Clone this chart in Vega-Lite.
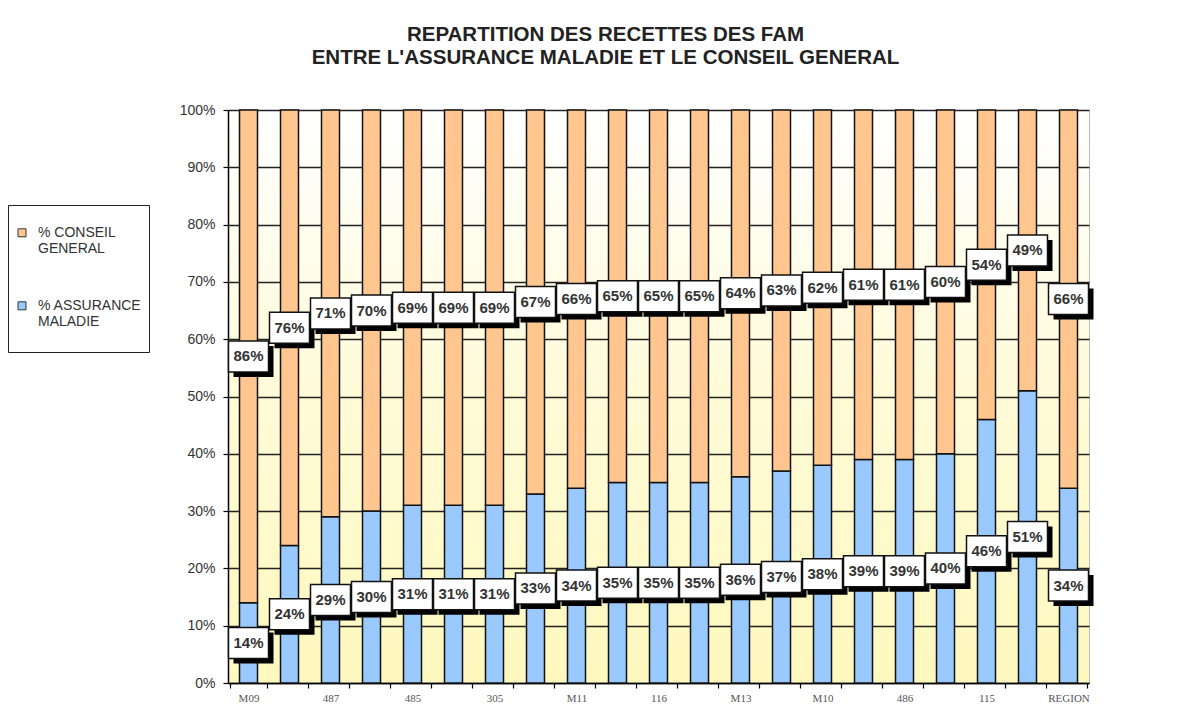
{
  "$schema": "https://vega.github.io/schema/vega-lite/v6.json",
  "width": 861,
  "height": 573,
  "autosize": {"type": "none"},
  "padding": {"left": 228, "top": 110, "right": 107, "bottom": 21},
  "background": "white",
  "view": {
    "fill": {"gradient": "linear", "x1": 0, "y1": 1, "x2": 0, "y2": 0,
      "stops": [{"offset": 0, "color": "#FFF8BE"}, {"offset": 0.5, "color": "#FFFBD8"}, {"offset": 1, "color": "#FFFFFF"}]},
    "stroke": "#bbbbbb"
  },
  "title": {
    "text": ["REPARTITION DES RECETTES DES FAM", "ENTRE L'ASSURANCE MALADIE ET LE CONSEIL GENERAL"],
    "font": "Liberation Sans", "fontSize": 20.5, "fontWeight": "bold", "color": "#222222",
    "anchor": "middle", "frame": "group", "dx": -53, "offset": 35, "lineHeight": 23
  },
  "data": {"values": [
    {"n": 1, "fam": "M09", "serie": "% ASSURANCE MALADIE", "part": 0.14},
    {"n": 1, "fam": "M09", "serie": "% CONSEIL GENERAL", "part": 0.86},
    {"n": 2, "serie": "% ASSURANCE MALADIE", "part": 0.24},
    {"n": 2, "serie": "% CONSEIL GENERAL", "part": 0.76},
    {"n": 3, "fam": "487", "serie": "% ASSURANCE MALADIE", "part": 0.29},
    {"n": 3, "fam": "487", "serie": "% CONSEIL GENERAL", "part": 0.71},
    {"n": 4, "serie": "% ASSURANCE MALADIE", "part": 0.30},
    {"n": 4, "serie": "% CONSEIL GENERAL", "part": 0.70},
    {"n": 5, "fam": "485", "serie": "% ASSURANCE MALADIE", "part": 0.31},
    {"n": 5, "fam": "485", "serie": "% CONSEIL GENERAL", "part": 0.69},
    {"n": 6, "serie": "% ASSURANCE MALADIE", "part": 0.31},
    {"n": 6, "serie": "% CONSEIL GENERAL", "part": 0.69},
    {"n": 7, "fam": "305", "serie": "% ASSURANCE MALADIE", "part": 0.31},
    {"n": 7, "fam": "305", "serie": "% CONSEIL GENERAL", "part": 0.69},
    {"n": 8, "serie": "% ASSURANCE MALADIE", "part": 0.33},
    {"n": 8, "serie": "% CONSEIL GENERAL", "part": 0.67},
    {"n": 9, "fam": "M11", "serie": "% ASSURANCE MALADIE", "part": 0.34},
    {"n": 9, "fam": "M11", "serie": "% CONSEIL GENERAL", "part": 0.66},
    {"n": 10, "serie": "% ASSURANCE MALADIE", "part": 0.35},
    {"n": 10, "serie": "% CONSEIL GENERAL", "part": 0.65},
    {"n": 11, "fam": "116", "serie": "% ASSURANCE MALADIE", "part": 0.35},
    {"n": 11, "fam": "116", "serie": "% CONSEIL GENERAL", "part": 0.65},
    {"n": 12, "serie": "% ASSURANCE MALADIE", "part": 0.35},
    {"n": 12, "serie": "% CONSEIL GENERAL", "part": 0.65},
    {"n": 13, "fam": "M13", "serie": "% ASSURANCE MALADIE", "part": 0.36},
    {"n": 13, "fam": "M13", "serie": "% CONSEIL GENERAL", "part": 0.64},
    {"n": 14, "serie": "% ASSURANCE MALADIE", "part": 0.37},
    {"n": 14, "serie": "% CONSEIL GENERAL", "part": 0.63},
    {"n": 15, "fam": "M10", "serie": "% ASSURANCE MALADIE", "part": 0.38},
    {"n": 15, "fam": "M10", "serie": "% CONSEIL GENERAL", "part": 0.62},
    {"n": 16, "serie": "% ASSURANCE MALADIE", "part": 0.39},
    {"n": 16, "serie": "% CONSEIL GENERAL", "part": 0.61},
    {"n": 17, "fam": "486", "serie": "% ASSURANCE MALADIE", "part": 0.39},
    {"n": 17, "fam": "486", "serie": "% CONSEIL GENERAL", "part": 0.61},
    {"n": 18, "serie": "% ASSURANCE MALADIE", "part": 0.40},
    {"n": 18, "serie": "% CONSEIL GENERAL", "part": 0.60},
    {"n": 19, "fam": "115", "serie": "% ASSURANCE MALADIE", "part": 0.46},
    {"n": 19, "fam": "115", "serie": "% CONSEIL GENERAL", "part": 0.54},
    {"n": 20, "serie": "% ASSURANCE MALADIE", "part": 0.51},
    {"n": 20, "serie": "% CONSEIL GENERAL", "part": 0.49},
    {"n": 21, "fam": "REGION", "serie": "% ASSURANCE MALADIE", "part": 0.34},
    {"n": 21, "fam": "REGION", "serie": "% CONSEIL GENERAL", "part": 0.66}
  ]},
  "encoding": {
    "x": {
      "field": "n", "type": "ordinal",
      "axis": {
        "title": null, "labelAngle": 0,
        "labelExpr": "['M09','','487','','485','','305','','M11','','116','','M13','','M10','','486','','115','','REGION'][datum.value - 1]",
        "labelFont": "Liberation Serif", "labelFontSize": 11, "labelColor": "#555555", "labelPadding": 4,
        "tickBand": "extent", "tickColor": "#000000", "tickSize": 5, "tickWidth": 1.2,
        "domainColor": "#000000", "domainWidth": 1.5, "grid": false
      }
    },
    "order": {"field": "serie", "sort": "ascending"}
  },
  "layer": [
    {
      "mark": {"type": "bar", "width": 18, "stroke": "#111111", "strokeWidth": 1.5},
      "encoding": {
        "y": {
          "field": "part", "type": "quantitative", "stack": "zero",
          "scale": {"domain": [0, 1]},
          "axis": {
            "title": null, "values": [0, 0.1, 0.2, 0.3, 0.4, 0.5, 0.6, 0.7, 0.8, 0.9, 1], "format": ".0%",
            "labelFont": "Liberation Sans", "labelFontSize": 14, "labelColor": "#333333", "labelPadding": 8,
            "tickColor": "#000000", "tickSize": 5, "tickWidth": 1.2,
            "domainColor": "#000000", "domainWidth": 1.5,
            "grid": true, "gridColor": "#222222", "gridWidth": 1.5
          }
        },
        "color": {
          "field": "serie", "type": "nominal",
          "scale": {"domain": ["% CONSEIL GENERAL", "% ASSURANCE MALADIE"], "range": ["#FFC690", "#99C9FF"]},
          "legend": {
            "title": " ", "titleFontSize": 4, "titlePadding": 3,
            "orient": "none", "legendX": -220, "legendY": 95,
            "strokeColor": "#222222", "fillColor": "#ffffff", "padding": 7,
            "symbolType": "M-1,0.7H1V2.7H-1Z", "symbolSize": 64, "symbolStrokeColor": "#333333", "symbolStrokeWidth": 1,
            "labelFont": "Liberation Sans", "labelFontSize": 14, "labelColor": "#333333",
            "labelExpr": "datum.label == '% CONSEIL GENERAL' ? ['% CONSEIL', 'GENERAL'] : ['% ASSURANCE', 'MALADIE', ' ']",
            "labelBaseline": "top", "labelOffset": 9, "rowPadding": 36, "labelLimit": 200
          }
        }
      }
    },
    {
      "mark": {"type": "point", "shape": "M-0.75,-0.525H1.25V1.025H-0.75Z", "size": 1600, "filled": true, "fill": "#000000", "opacity": 1, "strokeWidth": 0},
      "encoding": {
        "y": {"field": "part", "type": "quantitative", "stack": "zero", "bandPosition": 0.5},
        "detail": {"field": "serie"}
      }
    },
    {
      "mark": {"type": "point", "shape": "M-1,-0.775H1V0.775H-1Z", "size": 1600, "filled": true, "fill": "#ffffff", "stroke": "#111111", "strokeWidth": 1.5, "opacity": 1},
      "encoding": {
        "y": {"field": "part", "type": "quantitative", "stack": "zero", "bandPosition": 0.5},
        "detail": {"field": "serie"}
      }
    },
    {
      "mark": {"type": "text", "font": "Liberation Sans", "fontSize": 15, "fontWeight": "bold", "fill": "#333333", "baseline": "middle", "align": "center"},
      "encoding": {
        "y": {"field": "part", "type": "quantitative", "stack": "zero", "bandPosition": 0.5},
        "detail": {"field": "serie"},
        "text": {"field": "part", "type": "quantitative", "format": ".0%"}
      }
    }
  ]
}
